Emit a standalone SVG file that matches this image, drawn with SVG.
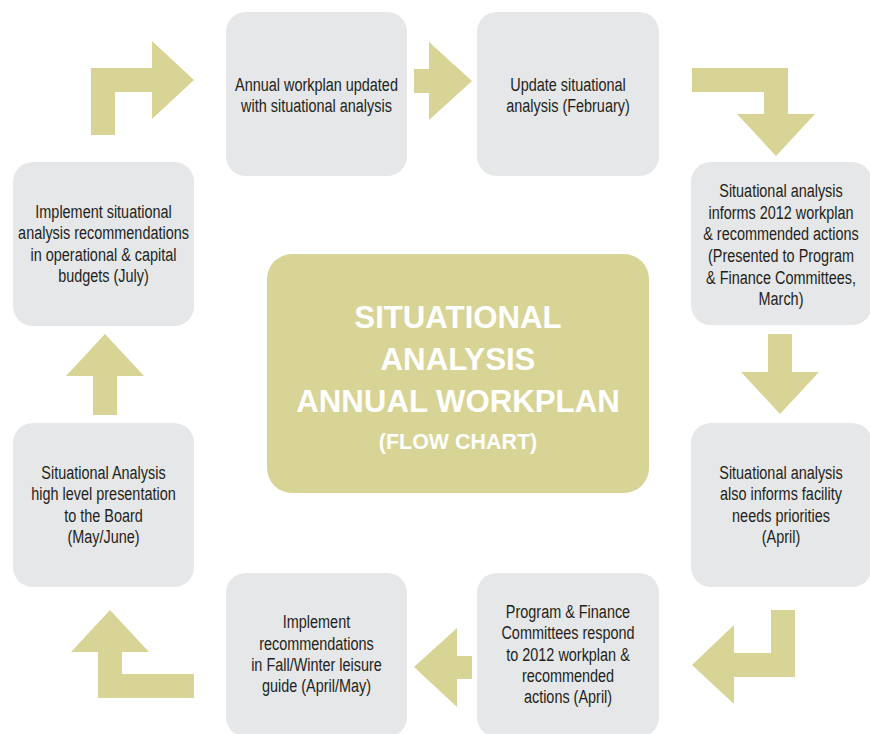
<svg xmlns="http://www.w3.org/2000/svg" width="870" height="734" viewBox="0 0 870 734">
  <style>
    .step { fill: #e6e7e8; }
    .hub { fill: #d8d496; }
    .arrow { fill: #d8d496; }
    .label { font-family: "Liberation Sans", Arial, sans-serif; font-size: 19px; fill: #231f20; text-anchor: middle; }
    .title { font-family: "Liberation Sans", Arial, sans-serif; font-weight: bold; fill: #ffffff; text-anchor: middle; }
  </style>

  <rect width="870" height="734" fill="#ffffff"/>

  <!-- connectors: block arrows running clockwise round the hub -->
  <g id="connectors">
    <polygon class="arrow" points="91,135 91,68 152,68 152,41 194,80 152,119 152,92 115,92 115,135"/>
    <polygon class="arrow" points="414,69 429,69 429,42 472,81 429,120 429,93 414,93"/>
    <polygon class="arrow" points="692,68 788,68 788,114 815,114 776,156 737,114 764,114 764,92 692,92"/>
    <polygon class="arrow" points="768,334 792,334 792,372 819,372 780,414 741,372 768,372"/>
    <polygon class="arrow" points="771,610 795,610 795,677 734,677 734,704 692,665 734,625 734,653 771,653"/>
    <polygon class="arrow" points="472,656 472,679 457,679 457,707 414,667 457,628 457,656"/>
    <polygon class="arrow" points="194,674 194,698 98,698 98,652 71,652 110,610 149,652 122,652 122,674"/>
    <polygon class="arrow" points="93,415 93,376 66,376 105,334 144,376 117,376 117,415"/>
  </g>

  <!-- central hub -->
  <g id="hub">
    <rect class="hub" x="267" y="254" width="382" height="239" rx="25"/>
    <g transform="translate(458 0) scale(0.975 1)">
      <text class="title" x="0" y="328" font-size="32">SITUATIONAL</text>
      <text class="title" x="0" y="370" font-size="32">ANALYSIS</text>
      <text class="title" x="0" y="412" font-size="32">ANNUAL WORKPLAN</text>
      <text class="title" x="0" y="449" font-size="22">(FLOW CHART)</text>
    </g>
  </g>

  <!-- step labels are set in a narrowed sans: each block is squeezed horizontally about its centre -->
  <g id="step-workplan-updated">
    <rect class="step" x="226" y="12" width="181" height="164" rx="20"/>
    <g transform="translate(316.5 0) scale(0.76 1)">
      <text class="label" x="0" y="91">Annual workplan updated</text>
      <text class="label" x="0" y="112.5">with situational analysis</text>
    </g>
  </g>

  <g id="step-update-analysis">
    <rect class="step" x="477" y="12" width="182" height="164" rx="20"/>
    <g transform="translate(568 0) scale(0.76 1)">
      <text class="label" x="0" y="91">Update situational</text>
      <text class="label" x="0" y="112.5">analysis (February)</text>
    </g>
  </g>

  <g id="step-informs-workplan">
    <rect class="step" x="691" y="162" width="181" height="163" rx="20"/>
    <g transform="translate(781 0) scale(0.76 1)">
      <text class="label" x="0" y="197">Situational analysis</text>
      <text class="label" x="0" y="218.7">informs 2012 workplan</text>
      <text class="label" x="0" y="240.4">&amp; recommended actions</text>
      <text class="label" x="0" y="262.1">(Presented to Program</text>
      <text class="label" x="0" y="283.8">&amp; Finance Committees,</text>
      <text class="label" x="0" y="305.5">March)</text>
    </g>
  </g>

  <g id="step-facility-needs">
    <rect class="step" x="691" y="423" width="181" height="164" rx="20"/>
    <g transform="translate(781 0) scale(0.76 1)">
      <text class="label" x="0" y="479">Situational analysis</text>
      <text class="label" x="0" y="500.5">also informs facility</text>
      <text class="label" x="0" y="522">needs priorities</text>
      <text class="label" x="0" y="543.5">(April)</text>
    </g>
  </g>

  <g id="step-committees-respond">
    <rect class="step" x="477" y="573" width="182" height="164" rx="20"/>
    <g transform="translate(568 0) scale(0.76 1)">
      <text class="label" x="0" y="618">Program &amp; Finance</text>
      <text class="label" x="0" y="639.3">Committees respond</text>
      <text class="label" x="0" y="660.6">to 2012 workplan &amp;</text>
      <text class="label" x="0" y="681.9">recommended</text>
      <text class="label" x="0" y="703.2">actions (April)</text>
    </g>
  </g>

  <g id="step-leisure-guide">
    <rect class="step" x="226" y="573" width="181" height="164" rx="20"/>
    <g transform="translate(316.5 0) scale(0.76 1)">
      <text class="label" x="0" y="628.5">Implement</text>
      <text class="label" x="0" y="649.8">recommendations</text>
      <text class="label" x="0" y="671.1">in Fall/Winter leisure</text>
      <text class="label" x="0" y="692.4">guide (April/May)</text>
    </g>
  </g>

  <g id="step-board-presentation">
    <rect class="step" x="13" y="423" width="181" height="164" rx="20"/>
    <g transform="translate(103.5 0) scale(0.76 1)">
      <text class="label" x="0" y="479">Situational Analysis</text>
      <text class="label" x="0" y="500.5">high level presentation</text>
      <text class="label" x="0" y="522">to the Board</text>
      <text class="label" x="0" y="543.5">(May/June)</text>
    </g>
  </g>

  <g id="step-budgets">
    <rect class="step" x="13" y="162" width="181" height="164" rx="20"/>
    <g transform="translate(103.5 0) scale(0.76 1)">
      <text class="label" x="0" y="218">Implement situational</text>
      <text class="label" x="0" y="239.5">analysis recommendations</text>
      <text class="label" x="0" y="261">in operational &amp; capital</text>
      <text class="label" x="0" y="282.5">budgets (July)</text>
    </g>
  </g>
</svg>
